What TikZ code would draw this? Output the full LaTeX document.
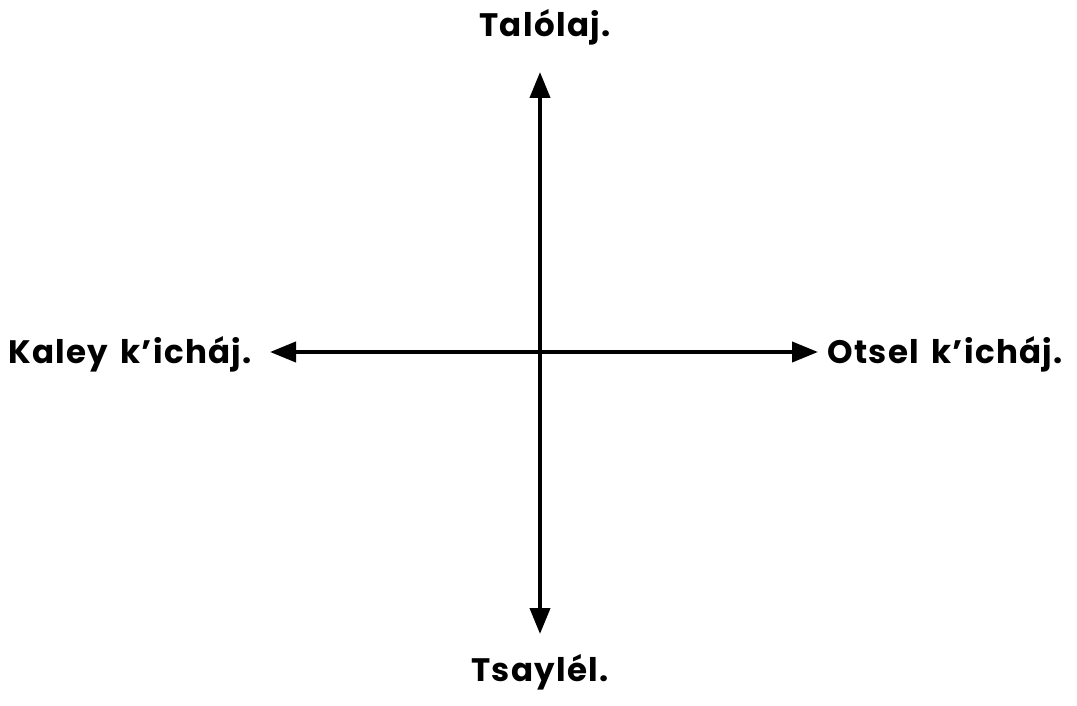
\documentclass[tikz,border=0pt]{standalone}
\usepackage{fontspec}
\setmainfont{Poppins}[LetterSpace=4,WordSpace=1.5]
\usetikzlibrary{arrows.meta}
\begin{document}
\begin{tikzpicture}[x=1pt,y=-1pt,
  axis/.style={line width=4pt,{Triangle[length=26pt,width=20pt]}-{Triangle[length=26pt,width=20pt]}},
  lbl/.style={font=\fontsize{32.5}{37}\selectfont\bfseries,inner sep=0pt}]
\useasboundingbox (0,0) rectangle (1077,706);
\coordinate (top) at (540,72);
\coordinate (bot) at (540,634);
\coordinate (lft) at (270,352);
\coordinate (rgt) at (818,352);
\draw[axis] (top) -- (bot);
\draw[axis] (lft) -- (rgt);
\node[lbl,anchor=base] (n) at (545,37) {Talólaj.};
\node[lbl,anchor=base] (s) at (540,681) {Tsaylél.};
\node[lbl,anchor=base west] (w) at (8,363) {Kaley k’icháj.};
\node[lbl,anchor=base east] (e) at (1063,363) {Otsel k’icháj.};
\end{tikzpicture}
\end{document}
